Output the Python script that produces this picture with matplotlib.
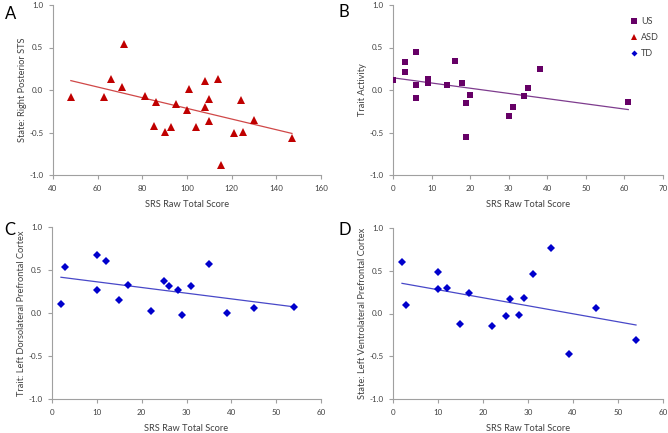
import numpy as np
import matplotlib
matplotlib.use("Agg")
import matplotlib.pyplot as plt
from matplotlib.lines import Line2D

plt.rcParams['font.family'] = ['Lato', 'DejaVu Sans']

# Panel A: ASD
a_x = [48, 63, 66, 71, 72, 81, 86, 85, 90, 93, 95, 100, 101, 104, 108, 108, 110, 110, 114, 115, 121, 124, 125, 130, 147]
a_y = [-0.08, -0.08, 0.125, 0.04, 0.54, -0.075, -0.14, -0.42, -0.49, -0.44, -0.17, -0.23, 0.01, -0.44, 0.105, -0.20, -0.10, -0.36, 0.13, -0.88, -0.51, -0.12, -0.49, -0.35, -0.57]
# Panel B: US
b_x = [0, 3, 3, 6, 6, 6, 9, 9, 14, 16, 18, 19, 19, 20, 30, 31, 34, 35, 38, 61]
b_y = [0.114, 0.333, 0.216, 0.443, 0.06, -0.09, 0.13, 0.086, 0.06, 0.34, 0.08, -0.157, -0.55, -0.06, -0.30, -0.20, -0.067, 0.02, 0.243, -0.14]
# Panel C: TD
c_x = [2, 3, 10, 10, 12, 15, 17, 22, 25, 26, 28, 29, 31, 35, 39, 45, 54]
c_y = [0.10, 0.53, 0.67, 0.27, 0.61, 0.156, 0.33, 0.02, 0.37, 0.31, 0.265, -0.023, 0.31, 0.57, 0.004, 0.058, 0.074]
# Panel D: TD
d_x = [2, 3, 10, 10, 12, 15, 17, 22, 25, 26, 28, 29, 31, 35, 39, 45, 54]
d_y = [0.60, 0.10, 0.49, 0.29, 0.30, -0.125, 0.24, -0.15, -0.035, 0.165, -0.02, 0.18, 0.46, 0.766, -0.476, 0.066, -0.31]

x_label = "SRS Raw Total Score"
y_labels = ["State: Right Posterior STS", "Trait Activity",
            "Trait: Left Dorsolateral Prefrontal Cortex",
            "State: Left Ventrolateral Prefrontal Cortex"]
letters = ["A", "B", "C", "D"]
x_limits = [(40, 160), (0, 70), (0, 60), (0, 60)]
x_steps = [20, 10, 10, 10]
legend_labels = ["US", "ASD", "TD"]

W, H = 668, 433
fig = plt.figure(figsize=(W / 100, H / 100), dpi=100)

boxes = [(53, 5, 321, 175), (393, 5, 663, 175), (52, 227, 321, 399), (393, 228, 663, 399)]
red, purple, blue = "#C00000", "#660066", "#0000CC"
styles = [
    dict(marker="^", color=red, ms=5.2, line="#D04848"),
    dict(marker="s", color=purple, ms=4.6, line="#7E3C8E"),
    dict(marker="D", color=blue, ms=3.8, line="#4848C8"),
    dict(marker="D", color=blue, ms=3.8, line="#4848C8"),
]
datas = [(a_x, a_y), (b_x, b_y), (c_x, c_y), (d_x, d_y)]
letter_pos = [(5, 14), (338, 12), (4, 230), (338, 230)]
txt = "#404040"

axes = []
for i, (l, t, r, b) in enumerate(boxes):
    ax = fig.add_axes([l / W, 1 - b / H, (r - l) / W, (b - t) / H])
    axes.append(ax)
    x, y = np.array(datas[i][0], float), np.array(datas[i][1], float)
    st = styles[i]
    ax.plot(x, y, linestyle="none", marker=st["marker"], color=st["color"],
            ms=st["ms"], mew=0, zorder=3)
    k, c0 = np.polyfit(x, y, 1)
    xx = np.array([x.min(), x.max()])
    ax.plot(xx, k * xx + c0, color=st["line"], lw=0.9, zorder=2)
    x0, x1 = x_limits[i]
    ax.set_xlim(x0, x1)
    ax.set_ylim(-1.0, 1.0)
    ax.set_xticks(np.arange(x0, x1 + 0.1, x_steps[i]))
    ax.set_yticks([-1.0, -0.5, 0.0, 0.5, 1.0])
    ax.set_yticklabels(["-1.0", "-0.5", "0.0", "0.5", "1.0"])
    for s in ["top", "right"]:
        ax.spines[s].set_visible(False)
    for s in ["left", "bottom"]:
        ax.spines[s].set_color("#A0A0A0")
        ax.spines[s].set_linewidth(0.8)
    ax.tick_params(direction="out", length=3, width=0.8, color="#A0A0A0",
                   labelsize=5.8, labelcolor=txt, pad=4)
    ax.set_xlabel(x_label, fontsize=6.7, color=txt, labelpad=6)
    ax.set_ylabel(y_labels[i], fontsize=6.7, color=txt, labelpad=1.5)
    ax.patch.set_alpha(0)
    fig.text(letter_pos[i][0] / W, 1 - letter_pos[i][1] / H, letters[i],
             fontsize=12, ha="left", va="center")

# legend
order = [1, 0, 2]
handles = [Line2D([], [], linestyle="none", marker=styles[j]["marker"], color=styles[j]["color"],
                  ms=styles[j]["ms"] * 0.8, mew=0) for j in order]
axes[1].legend(handles, legend_labels, loc="upper left", bbox_to_anchor=(622 / W, 1 - 9 / H),
               bbox_transform=fig.transFigure, frameon=False, fontsize=6.5, handlelength=0.8,
               handletextpad=0.4, labelspacing=0.75, labelcolor=txt)

fig.savefig("out.png", dpi=100)
